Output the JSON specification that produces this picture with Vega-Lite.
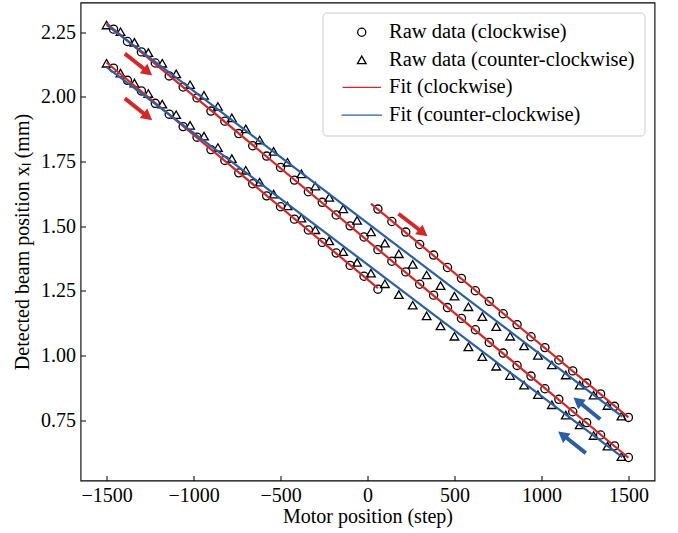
{
  "$schema": "https://vega.github.io/schema/vega-lite/v6.json",
  "width": 574,
  "height": 478,
  "autosize": "none",
  "padding": {"left": 80.5, "top": 2.5, "right": 23.5, "bottom": 52.5},
  "background": "white",
  "config": {
    "font": "Liberation Serif",
    "view": {"stroke": "black", "strokeWidth": 1.1},
    "axis": {
      "grid": false,
      "domain": false,
      "tickColor": "black",
      "tickWidth": 1,
      "tickSize": -5,
      "labelFont": "Liberation Serif",
      "labelFontSize": 20,
      "labelColor": "black",
      "titleFont": "Liberation Serif",
      "titleFontSize": 20,
      "titleFontWeight": "normal",
      "titleColor": "black"
    }
  },
  "datasets": {
    "raw": [
      {"x": 60, "y": 1.566, "s": "cw"}, {"x": 140, "y": 1.518, "s": "cw"}, {"x": 220, "y": 1.477, "s": "cw"}, {"x": 300, "y": 1.429, "s": "cw"}, {"x": 380, "y": 1.388, "s": "cw"}, {"x": 460, "y": 1.340, "s": "cw"}, {"x": 540, "y": 1.298, "s": "cw"}, {"x": 620, "y": 1.250, "s": "cw"}, {"x": 700, "y": 1.209, "s": "cw"}, {"x": 780, "y": 1.161, "s": "cw"}, {"x": 860, "y": 1.119, "s": "cw"}, {"x": 940, "y": 1.072, "s": "cw"}, {"x": 1020, "y": 1.030, "s": "cw"}, {"x": 1100, "y": 0.982, "s": "cw"}, {"x": 1180, "y": 0.940, "s": "cw"}, {"x": 1260, "y": 0.893, "s": "cw"}, {"x": 1340, "y": 0.851, "s": "cw"}, {"x": 1420, "y": 0.803, "s": "cw"}, {"x": 1500, "y": 0.760, "s": "cw"},
      {"x": -1460, "y": 2.262, "s": "cw"}, {"x": -1380, "y": 2.214, "s": "cw"}, {"x": -1300, "y": 2.174, "s": "cw"}, {"x": -1220, "y": 2.131, "s": "cw"}, {"x": -1140, "y": 2.081, "s": "cw"}, {"x": -1060, "y": 2.038, "s": "cw"}, {"x": -980, "y": 1.996, "s": "cw"}, {"x": -900, "y": 1.945, "s": "cw"}, {"x": -820, "y": 1.906, "s": "cw"}, {"x": -740, "y": 1.858, "s": "cw"}, {"x": -660, "y": 1.811, "s": "cw"}, {"x": -580, "y": 1.771, "s": "cw"}, {"x": -500, "y": 1.727, "s": "cw"}, {"x": -420, "y": 1.678, "s": "cw"}, {"x": -340, "y": 1.633, "s": "cw"}, {"x": -260, "y": 1.592, "s": "cw"}, {"x": -180, "y": 1.543, "s": "cw"}, {"x": -100, "y": 1.501, "s": "cw"}, {"x": -20, "y": 1.458, "s": "cw"}, {"x": 60, "y": 1.409, "s": "cw"}, {"x": 140, "y": 1.364, "s": "cw"}, {"x": 220, "y": 1.323, "s": "cw"}, {"x": 300, "y": 1.275, "s": "cw"}, {"x": 380, "y": 1.233, "s": "cw"}, {"x": 460, "y": 1.185, "s": "cw"}, {"x": 540, "y": 1.143, "s": "cw"}, {"x": 620, "y": 1.099, "s": "cw"}, {"x": 700, "y": 1.050, "s": "cw"}, {"x": 780, "y": 1.009, "s": "cw"}, {"x": 860, "y": 0.961, "s": "cw"}, {"x": 940, "y": 0.920, "s": "cw"}, {"x": 1020, "y": 0.871, "s": "cw"}, {"x": 1100, "y": 0.830, "s": "cw"}, {"x": 1180, "y": 0.782, "s": "cw"}, {"x": 1260, "y": 0.740, "s": "cw"}, {"x": 1340, "y": 0.692, "s": "cw"}, {"x": 1420, "y": 0.650, "s": "cw"}, {"x": 1500, "y": 0.605, "s": "cw"},
      {"x": -1460, "y": 2.111, "s": "cw"}, {"x": -1380, "y": 2.064, "s": "cw"}, {"x": -1300, "y": 2.023, "s": "cw"}, {"x": -1220, "y": 1.975, "s": "cw"}, {"x": -1140, "y": 1.933, "s": "cw"}, {"x": -1060, "y": 1.885, "s": "cw"}, {"x": -980, "y": 1.844, "s": "cw"}, {"x": -900, "y": 1.796, "s": "cw"}, {"x": -820, "y": 1.754, "s": "cw"}, {"x": -740, "y": 1.706, "s": "cw"}, {"x": -660, "y": 1.664, "s": "cw"}, {"x": -580, "y": 1.617, "s": "cw"}, {"x": -500, "y": 1.575, "s": "cw"}, {"x": -420, "y": 1.527, "s": "cw"}, {"x": -340, "y": 1.485, "s": "cw"}, {"x": -260, "y": 1.437, "s": "cw"}, {"x": -180, "y": 1.396, "s": "cw"}, {"x": -100, "y": 1.348, "s": "cw"}, {"x": -20, "y": 1.306, "s": "cw"}, {"x": 60, "y": 1.256, "s": "cw"},
      {"x": -1500, "y": 2.278, "s": "ccw"}, {"x": -1420, "y": 2.252, "s": "ccw"}, {"x": -1340, "y": 2.211, "s": "ccw"}, {"x": -1260, "y": 2.171, "s": "ccw"}, {"x": -1180, "y": 2.130, "s": "ccw"}, {"x": -1100, "y": 2.089, "s": "ccw"}, {"x": -1020, "y": 2.047, "s": "ccw"}, {"x": -940, "y": 2.006, "s": "ccw"}, {"x": -860, "y": 1.963, "s": "ccw"}, {"x": -780, "y": 1.919, "s": "ccw"}, {"x": -700, "y": 1.876, "s": "ccw"}, {"x": -620, "y": 1.833, "s": "ccw"}, {"x": -540, "y": 1.789, "s": "ccw"}, {"x": -460, "y": 1.747, "s": "ccw"}, {"x": -380, "y": 1.702, "s": "ccw"}, {"x": -300, "y": 1.655, "s": "ccw"}, {"x": -220, "y": 1.611, "s": "ccw"}, {"x": -140, "y": 1.567, "s": "ccw"}, {"x": -60, "y": 1.522, "s": "ccw"}, {"x": 20, "y": 1.478, "s": "ccw"}, {"x": 100, "y": 1.434, "s": "ccw"}, {"x": 180, "y": 1.393, "s": "ccw"}, {"x": 260, "y": 1.352, "s": "ccw"}, {"x": 340, "y": 1.311, "s": "ccw"}, {"x": 420, "y": 1.270, "s": "ccw"}, {"x": 500, "y": 1.229, "s": "ccw"}, {"x": 580, "y": 1.188, "s": "ccw"}, {"x": 660, "y": 1.150, "s": "ccw"}, {"x": 740, "y": 1.111, "s": "ccw"}, {"x": 820, "y": 1.074, "s": "ccw"}, {"x": 900, "y": 1.037, "s": "ccw"}, {"x": 980, "y": 1.000, "s": "ccw"}, {"x": 1060, "y": 0.963, "s": "ccw"}, {"x": 1140, "y": 0.924, "s": "ccw"}, {"x": 1220, "y": 0.885, "s": "ccw"}, {"x": 1300, "y": 0.846, "s": "ccw"}, {"x": 1380, "y": 0.806, "s": "ccw"}, {"x": 1460, "y": 0.765, "s": "ccw"},
      {"x": -1500, "y": 2.130, "s": "ccw"}, {"x": -1420, "y": 2.092, "s": "ccw"}, {"x": -1340, "y": 2.053, "s": "ccw"}, {"x": -1260, "y": 2.013, "s": "ccw"}, {"x": -1180, "y": 1.972, "s": "ccw"}, {"x": -1100, "y": 1.931, "s": "ccw"}, {"x": -1020, "y": 1.890, "s": "ccw"}, {"x": -940, "y": 1.848, "s": "ccw"}, {"x": -860, "y": 1.804, "s": "ccw"}, {"x": -780, "y": 1.761, "s": "ccw"}, {"x": -700, "y": 1.716, "s": "ccw"}, {"x": -620, "y": 1.670, "s": "ccw"}, {"x": -540, "y": 1.624, "s": "ccw"}, {"x": -460, "y": 1.578, "s": "ccw"}, {"x": -380, "y": 1.531, "s": "ccw"}, {"x": -300, "y": 1.486, "s": "ccw"}, {"x": -220, "y": 1.443, "s": "ccw"}, {"x": -140, "y": 1.401, "s": "ccw"}, {"x": -60, "y": 1.360, "s": "ccw"}, {"x": 20, "y": 1.318, "s": "ccw"}, {"x": 100, "y": 1.277, "s": "ccw"}, {"x": 180, "y": 1.235, "s": "ccw"}, {"x": 260, "y": 1.194, "s": "ccw"}, {"x": 340, "y": 1.153, "s": "ccw"}, {"x": 420, "y": 1.114, "s": "ccw"}, {"x": 500, "y": 1.074, "s": "ccw"}, {"x": 580, "y": 1.033, "s": "ccw"}, {"x": 660, "y": 0.995, "s": "ccw"}, {"x": 740, "y": 0.958, "s": "ccw"}, {"x": 820, "y": 0.922, "s": "ccw"}, {"x": 900, "y": 0.885, "s": "ccw"}, {"x": 980, "y": 0.848, "s": "ccw"}, {"x": 1060, "y": 0.809, "s": "ccw"}, {"x": 1140, "y": 0.769, "s": "ccw"}, {"x": 1220, "y": 0.731, "s": "ccw"}, {"x": 1300, "y": 0.690, "s": "ccw"}, {"x": 1380, "y": 0.649, "s": "ccw"}, {"x": 1460, "y": 0.608, "s": "ccw"}
    ],
    "fit": [
      {"x": 20, "y": 1.587, "s": "fcw", "seg": "a1"}, {"x": 1500, "y": 0.760, "s": "fcw", "seg": "a1"},
      {"x": -1500, "y": 2.284, "s": "fcw", "seg": "a2"}, {"x": 1500, "y": 0.604, "s": "fcw", "seg": "a2"},
      {"x": -1500, "y": 2.133, "s": "fcw", "seg": "a3"}, {"x": 60, "y": 1.260, "s": "fcw", "seg": "a3"},
      {"x": -1500, "y": 2.278, "s": "fccw", "seg": "b1"}, {"x": 1465, "y": 0.763, "s": "fccw", "seg": "b1"},
      {"x": -1500, "y": 2.115, "s": "fccw", "seg": "b2"}, {"x": 1465, "y": 0.606, "s": "fccw", "seg": "b2"}
    ],
    "arrows": [
      {"x": -1395, "y": 2.167, "xe": -1273, "ye": 2.102, "xt": -1238, "yt": 2.083, "a": 38.8, "c": "r"},
      {"x": -1395, "y": 1.994, "xe": -1274, "ye": 1.929, "xt": -1238, "yt": 1.910, "a": 38.4, "c": "r"},
      {"x": 178, "y": 1.548, "xe": 309, "ye": 1.480, "xt": 345, "yt": 1.461, "a": 37.7, "c": "r"},
      {"x": 1338, "y": 0.753, "xe": 1220, "ye": 0.818, "xt": 1184, "yt": 0.837, "a": 219.1, "c": "b"},
      {"x": 1255, "y": 0.622, "xe": 1133, "ye": 0.687, "xt": 1096, "yt": 0.706, "a": 218.2, "c": "b"}
    ]
  },
  "encoding": {
    "x": {
      "field": "x", "type": "quantitative",
      "scale": {"domain": [-1650, 1650], "nice": false, "zero": false},
      "axis": {"values": [-1500, -1000, -500, 0, 500, 1000, 1500], "format": "d", "title": "Motor position (step)", "labelPadding": 10, "titlePadding": 1}
    },
    "y": {
      "field": "y", "type": "quantitative",
      "scale": {"domain": [0.516, 2.365], "nice": false, "zero": false},
      "axis": {"values": [0.75, 1.0, 1.25, 1.5, 1.75, 2.0, 2.25], "format": ".2f", "title": "Detected beam position xₗ (mm)", "labelPadding": 10, "titlePadding": 8}
    }
  },
  "layer": [
    {
      "data": {"name": "raw"},
      "mark": {"type": "point", "filled": false, "opacity": 1},
      "encoding": {
        "stroke": {
          "field": "s", "type": "nominal",
          "scale": {"domain": ["cw", "ccw", "fcw", "fccw"], "range": ["black", "black", "#d62728", "#2b5fa3"]},
          "legend": {
            "title": null,
            "orient": "top-right",
            "offset": 10,
            "padding": 9.5,
            "fillColor": "white",
            "strokeColor": "#cccccc",
            "cornerRadius": 4,
            "symbolOffset": 19.5,
            "labelOffset": 17,
            "rowPadding": 6.6,
            "labelFont": "Liberation Serif",
            "labelFontSize": 20.5,
            "labelColor": "black",
            "labelLimit": 400,
            "symbolOpacity": 1,
            "labelExpr": "datum.value == 'cw' ? 'Raw data (clockwise)' : datum.value == 'ccw' ? 'Raw data (counter-clockwise)' : datum.value == 'fcw' ? 'Fit (clockwise)' : 'Fit (counter-clockwise)'"
          }
        },
        "shape": {
          "field": "s", "type": "nominal",
          "scale": {"domain": ["cw", "ccw", "fcw", "fccw"], "range": ["circle", "triangle-up", "M -4.2 0 L 4.2 0", "M -4.2 0 L 4.2 0"]},
          "legend": {"title": null}
        },
        "size": {
          "field": "s", "type": "nominal",
          "scale": {"domain": ["cw", "ccw", "fcw", "fccw"], "range": [66, 92, 400, 400]},
          "legend": {"title": null}
        },
        "strokeWidth": {
          "field": "s", "type": "nominal",
          "scale": {"domain": ["cw", "ccw", "fcw", "fccw"], "range": [1.3, 1.3, 2.2, 2.2]},
          "legend": {"title": null}
        }
      }
    },
    {
      "data": {"name": "fit"},
      "mark": {"type": "line", "strokeWidth": 2.2},
      "encoding": {
        "detail": {"field": "seg", "type": "nominal"},
        "stroke": {"field": "s", "type": "nominal"}
      }
    },
    {
      "data": {"name": "arrows"},
      "mark": {"type": "rule", "strokeWidth": 4, "strokeCap": "butt"},
      "encoding": {
        "x2": {"field": "xe"},
        "y2": {"field": "ye"},
        "color": {"field": "c", "type": "nominal", "scale": {"domain": ["r", "b"], "range": ["#d62728", "#2b5fa3"]}, "legend": null}
      }
    },
    {
      "data": {"name": "arrows"},
      "mark": {"type": "point", "shape": "M 0 0 L -1 -0.55 L -1 0.55 Z", "filled": true, "size": 484, "strokeWidth": 0, "opacity": 1},
      "encoding": {
        "x": {"field": "xt", "type": "quantitative"},
        "y": {"field": "yt", "type": "quantitative"},
        "angle": {"field": "a", "type": "quantitative", "scale": null},
        "color": {"field": "c", "type": "nominal", "legend": null}
      }
    }
  ]
}
